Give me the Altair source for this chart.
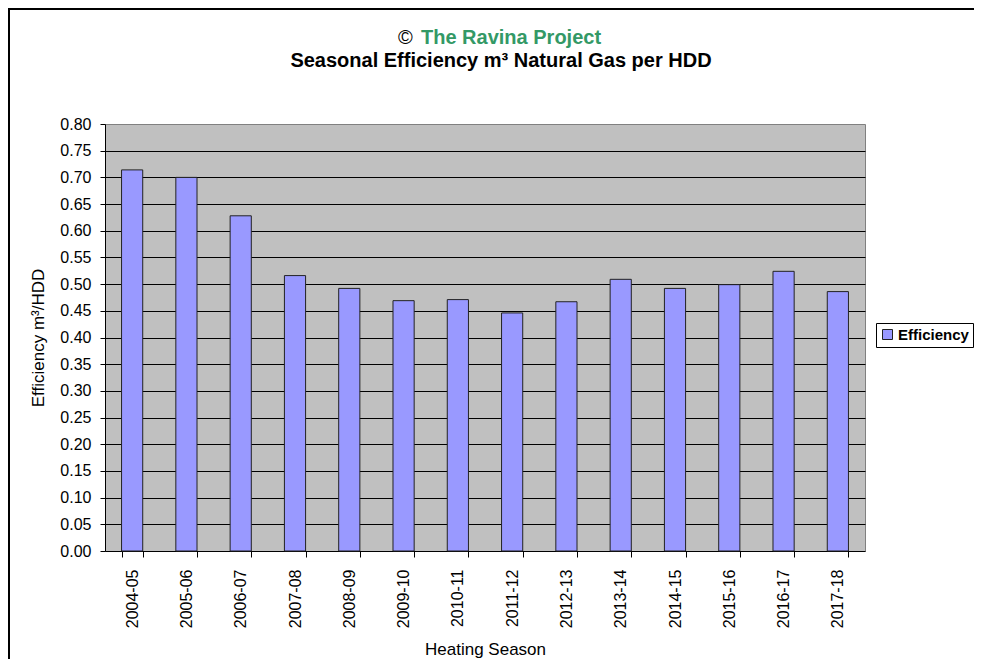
import altair as alt
import pandas as pd

# ---- data ----
seasons = ["2004-05", "2005-06", "2006-07", "2007-08", "2008-09", "2009-10", "2010-11",
           "2011-12", "2012-13", "2013-14", "2014-15", "2015-16", "2016-17", "2017-18"]
efficiency = [0.714, 0.700, 0.628, 0.516, 0.492, 0.469, 0.471,
              0.446, 0.467, 0.509, 0.492, 0.499, 0.524, 0.486]
series_name = "Efficiency"
y_ticks = [0.00, 0.05, 0.10, 0.15, 0.20, 0.25, 0.30, 0.35, 0.40,
           0.45, 0.50, 0.55, 0.60, 0.65, 0.70, 0.75, 0.80]

title_mark = "©"
title_project = "The Ravina Project"
title_main = "Seasonal Efficiency m³ Natural Gas per HDD"
x_title = "Heating Season"
y_title = "Efficiency m³/HDD"

FONT = "Liberation Sans"
PLOT_W, PLOT_H = 760, 427

df = pd.DataFrame({"season": seasons, "efficiency": efficiency,
                   "series": [series_name] * len(seasons)})
one = pd.DataFrame({"k": [0]})

bars = alt.Chart(df).mark_bar(stroke="#222222", strokeWidth=1).encode(
    x=alt.X("season:N", sort=seasons, title=x_title,
            scale=alt.Scale(paddingInner=0.61, paddingOuter=0.305),
            axis=alt.Axis(labelAngle=270, tickBand="extent", tickSize=6, labelPadding=12,
                          grid=False, labelFontSize=16, titleFontSize=17,
                          titleFontWeight="normal", titleX=PLOT_W / 2, titleY=98,
                          titleBaseline="middle", titleAlign="center")),
    y=alt.Y("efficiency:Q", title=y_title,
            scale=alt.Scale(domain=[0, 0.8], nice=False, zero=True),
            axis=alt.Axis(values=y_ticks, format=".2f", tickSize=5, labelPadding=9,
                          labelFontSize=16, titleFontSize=17, titleFontWeight="normal",
                          grid=True,
                          gridOpacity=alt.condition("datum.value >= 0.79 || datum.value <= 0.001",
                                                    alt.value(0), alt.value(1)),
                          titleX=-67, titleY=PLOT_H / 2, titleAngle=270,
                          titleBaseline="middle", titleAlign="center")),
    color=alt.Color("series:N", scale=alt.Scale(range=["#9999ff"]),
                    legend=alt.Legend(title=None, orient="none", legendX=771, legendY=199,
                                      symbolType="square", symbolSize=100,
                                      symbolStrokeColor="#222222", symbolStrokeWidth=1,
                                      labelFontSize=15, labelFontWeight="bold",
                                      labelOffset=3, labelLimit=300,
                                      strokeColor="black", fillColor="white", padding=4)),
)

border = alt.Chart(one).mark_rect(fill="transparent", stroke="black", strokeWidth=2).encode(
    x=alt.value(-96), x2=alt.value(PLOT_W + 200),
    y=alt.value(-115), y2=alt.value(PLOT_H + 200),
)

t_mark = alt.Chart(one).mark_text(font=FONT, fontSize=20, color="black", align="left",
                                  baseline="alphabetic").encode(
    x=alt.value(293), y=alt.value(-80), text=alt.value(title_mark))
t_proj = alt.Chart(one).mark_text(font=FONT, fontSize=20, fontWeight="bold", color="#339966",
                                  align="left", baseline="alphabetic").encode(
    x=alt.value(316), y=alt.value(-80), text=alt.value(title_project))
t_main = alt.Chart(one).mark_text(font=FONT, fontSize=20, fontWeight="bold", color="black",
                                  align="center", baseline="alphabetic").encode(
    x=alt.value(396), y=alt.value(-57), text=alt.value(title_main))

chart = alt.layer(border, bars, t_mark, t_proj, t_main).properties(
    width=PLOT_W, height=PLOT_H,
    autosize=alt.AutoSizeParams(type="none"),
    padding={"left": 97, "top": 116, "right": 109, "bottom": 108},
    background="white",
).configure_view(
    fill="#c0c0c0", stroke="#808080", strokeWidth=1
).configure_axis(
    labelFont=FONT, titleFont=FONT, labelColor="black", titleColor="black",
    domainColor="black", tickColor="black", gridColor="black", gridWidth=1,
    domainWidth=1, tickWidth=1
).configure_legend(
    labelFont=FONT, labelColor="black"
)

chart.save("out.html", embed_options={"renderer": "svg", "actions": False})
